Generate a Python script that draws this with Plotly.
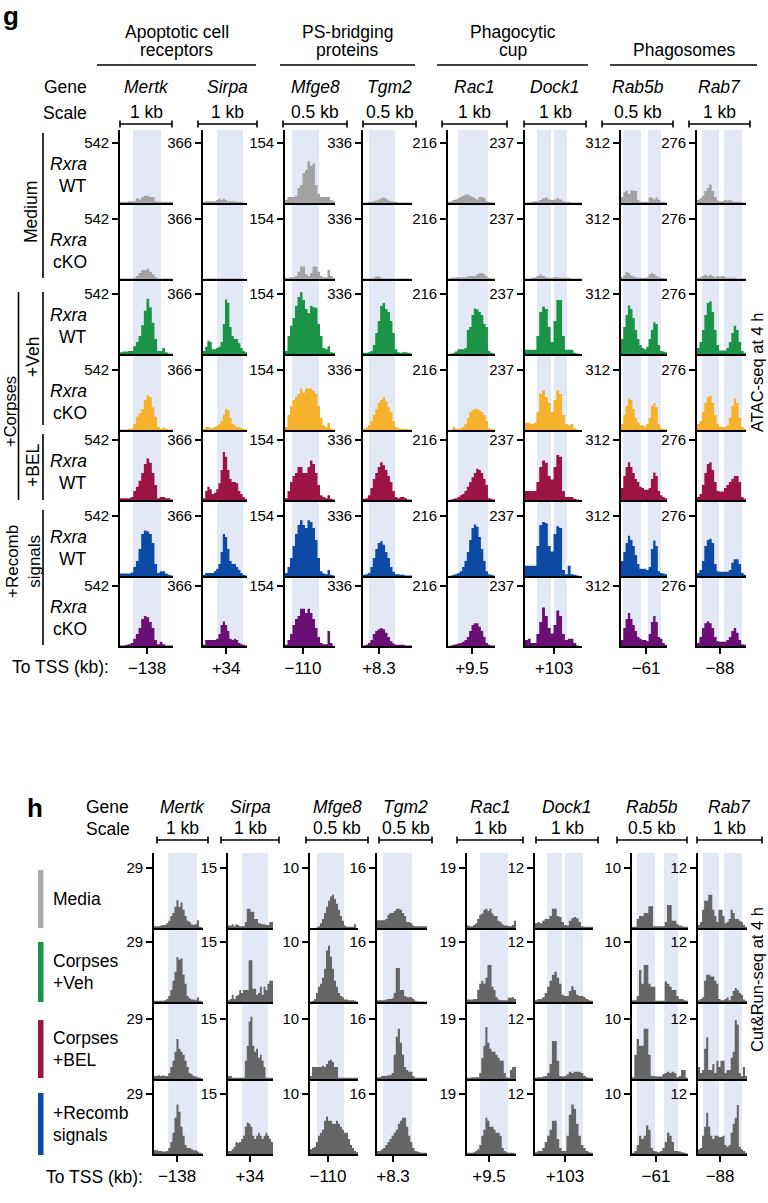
import numpy as np
import plotly.graph_objects as go

W, H = 768, 1203
FONT = "Liberation Sans, Arial, Helvetica, sans-serif"
LW = 1.6

# ---------------- data ----------------
GENES = ["Mertk", "Sirpa", "Mfge8", "Tgm2", "Rac1", "Dock1", "Rab5b", "Rab7"]
SCALES = ["1 kb", "1 kb", "0.5 kb", "0.5 kb", "1 kb", "1 kb", "0.5 kb", "1 kb"]
TO_TSS = ["\u2212138", "+34", "\u2212110", "+8.3", "+9.5", "+103", "\u221261", "\u221288"]
CATEGORIES = [["Apoptotic cell", "receptors"], ["PS-bridging", "proteins"],
              ["Phagocytic", "cup"], ["Phagosomes"]]
G_YMAX = [542, 366, 154, 336, 216, 237, 312, 276]
H_YMAX = [29, 15, 10, 16, 19, 12, 10, 12]
G_GENOTYPE = ["WT", "cKO", "WT", "cKO", "WT", "WT", "cKO"]
G_GROUPS = ["Medium", "+Veh", "+BEL", "+Recomb<br>signals", "+Corpses"]
H_CONDITIONS = [["Media"], ["Corpses", "+Veh"], ["Corpses", "+BEL"], ["+Recomb", "signals"]]

G_COLORS = ["#a2a2a2", "#a2a2a2", "#1c9447", "#f6b22c", "#9c1443", "#0c4aa6", "#6a0f73"]
H_LEGEND_COLORS = ["#ababab", "#1c9447", "#9c1443", "#0c4aa6"]
H_TRACK_COLOR = "#656565"
SHADE_COLOR = "#e3e9f4"

# peak (TSS-distance) tick and shaded peak regions, in bin units
G_TSS_BIN = [10.2, 10.5, 7.2, 6.5, 10.2, 10.2, 10.9, 9.4]
G_SHADE = [[(4.9, 15.5)], [(6.4, 18.2)], [(2.8, 13.6)], [(2.4, 13.1)], [(4.3, 17.0)],
           [(4.2, 9.1), (10.2, 14.7)], [(0.9, 8.7), (11.7, 17.4)], [(2.0, 9.0), (11.0, 18.4)]]
H_TSS_BIN = [11.3, 11.7, 9.0, 7.7, 10.8, 12.4, 10.3, 10.8]
H_SHADE = [[(6.9, 21.1)], [(7.5, 21.3)], [(3.5, 17.0)], [(2.9, 16.8)], [(6.4, 20.1)],
           [(5.0, 11.2), (12.4, 19.9)], [(2.1, 9.9), (13.7, 19.7)], [(2.4, 10.3), (12.7, 21.6)]]

# ATAC-seq signal, as fraction of each track's axis maximum (rows: Medium WT, Medium cKO,
# Veh WT, Veh cKO, BEL WT, Recomb WT, Recomb cKO)
G_MERTK = [
    [0.02, 0.02, 0.02, 0.03, 0.03, 0.03, 0.08, 0.06, 0.10, 0.12, 0.12, 0.10, 0.10, 0.03, 0.02, 0.02, 0.02, 0.02, 0.02, 0.02],
    [0.01, 0.01, 0.01, 0.01, 0.01, 0.02, 0.05, 0.10, 0.15, 0.15, 0.17, 0.12, 0.08, 0.03, 0.01, 0.01, 0.01, 0.01, 0.01, 0.01],
    [0.03, 0.04, 0.04, 0.05, 0.05, 0.13, 0.20, 0.30, 0.48, 0.72, 0.92, 0.78, 0.52, 0.25, 0.05, 0.05, 0.10, 0.03, 0.01, 0.01],
    [0.01, 0.01, 0.01, 0.02, 0.02, 0.10, 0.22, 0.28, 0.35, 0.50, 0.58, 0.55, 0.38, 0.22, 0.05, 0.02, 0.04, 0.02, 0.01, 0.01],
    [0.03, 0.03, 0.03, 0.03, 0.05, 0.15, 0.22, 0.32, 0.45, 0.60, 0.69, 0.62, 0.45, 0.25, 0.03, 0.05, 0.05, 0.03, 0.03, 0.01],
    [0.04, 0.04, 0.04, 0.04, 0.06, 0.15, 0.25, 0.45, 0.70, 0.76, 0.74, 0.70, 0.55, 0.20, 0.05, 0.08, 0.08, 0.04, 0.02, 0.01],
    [0.01, 0.01, 0.02, 0.03, 0.05, 0.12, 0.20, 0.30, 0.45, 0.50, 0.48, 0.40, 0.30, 0.10, 0.03, 0.07, 0.03, 0.01, 0.01, 0.01],
]
G_SIRPA = [
    [0.02, 0.03, 0.03, 0.03, 0.03, 0.03, 0.05, 0.07, 0.05, 0.07, 0.05, 0.03, 0.03, 0.03, 0.03, 0.02, 0.02, 0.02, 0.01, 0.00],
    [0.00, 0.01, 0.01, 0.01, 0.01, 0.01, 0.01, 0.01, 0.01, 0.01, 0.01, 0.01, 0.01, 0.01, 0.01, 0.01, 0.01, 0.01, 0.01, 0.00],
    [0.05, 0.12, 0.22, 0.20, 0.08, 0.08, 0.10, 0.12, 0.20, 0.50, 0.91, 0.85, 0.45, 0.30, 0.25, 0.25, 0.18, 0.10, 0.05, 0.03],
    [0.02, 0.05, 0.05, 0.03, 0.03, 0.05, 0.07, 0.10, 0.15, 0.25, 0.35, 0.33, 0.20, 0.10, 0.08, 0.05, 0.05, 0.03, 0.02, 0.01],
    [0.03, 0.15, 0.22, 0.18, 0.10, 0.12, 0.18, 0.28, 0.50, 0.80, 0.72, 0.50, 0.35, 0.30, 0.30, 0.28, 0.15, 0.10, 0.05, 0.02],
    [0.02, 0.05, 0.05, 0.05, 0.05, 0.08, 0.12, 0.20, 0.40, 0.70, 0.65, 0.45, 0.25, 0.20, 0.20, 0.15, 0.10, 0.05, 0.02, 0.01],
    [0.02, 0.10, 0.10, 0.10, 0.10, 0.10, 0.12, 0.20, 0.35, 0.41, 0.35, 0.25, 0.12, 0.10, 0.12, 0.10, 0.05, 0.03, 0.02, 0.01],
]
G_MFGE8 = [
    [0.05, 0.10, 0.10, 0.10, 0.12, 0.25, 0.30, 0.50, 0.55, 0.69, 0.62, 0.66, 0.30, 0.15, 0.10, 0.10, 0.10, 0.10, 0.05, 0.03],
    [0.02, 0.02, 0.03, 0.03, 0.05, 0.12, 0.21, 0.21, 0.08, 0.05, 0.10, 0.21, 0.21, 0.12, 0.05, 0.03, 0.03, 0.15, 0.05, 0.02],
    [0.05, 0.30, 0.47, 0.60, 0.80, 0.95, 1.03, 0.90, 0.75, 0.68, 0.80, 0.78, 0.77, 0.50, 0.30, 0.10, 0.08, 0.13, 0.03, 0.02],
    [0.05, 0.25, 0.40, 0.50, 0.55, 0.60, 0.69, 0.62, 0.69, 0.69, 0.69, 0.65, 0.60, 0.40, 0.20, 0.08, 0.05, 0.12, 0.02, 0.01],
    [0.03, 0.15, 0.30, 0.40, 0.45, 0.55, 0.55, 0.45, 0.45, 0.55, 0.66, 0.60, 0.45, 0.25, 0.08, 0.05, 0.03, 0.08, 0.02, 0.01],
    [0.05, 0.15, 0.30, 0.50, 0.70, 0.85, 0.93, 0.85, 0.80, 0.93, 0.90, 0.80, 0.60, 0.30, 0.08, 0.04, 0.03, 0.10, 0.02, 0.01],
    [0.02, 0.10, 0.20, 0.35, 0.45, 0.50, 0.62, 0.62, 0.55, 0.62, 0.55, 0.45, 0.30, 0.15, 0.05, 0.03, 0.03, 0.25, 0.05, 0.00],
]
G_TGM2 = [
    [0.01, 0.01, 0.02, 0.02, 0.03, 0.04, 0.06, 0.08, 0.09, 0.07, 0.04, 0.03, 0.02, 0.02, 0.01, 0.01, 0.01, 0.01, 0.01, 0.01],
    [0.01, 0.01, 0.01, 0.01, 0.02, 0.04, 0.04, 0.02, 0.01, 0.01, 0.01, 0.01, 0.01, 0.01, 0.01, 0.01, 0.01, 0.01, 0.01, 0.01],
    [0.02, 0.02, 0.03, 0.05, 0.15, 0.35, 0.55, 0.80, 0.85, 0.75, 0.70, 0.55, 0.35, 0.08, 0.03, 0.02, 0.03, 0.03, 0.02, 0.01],
    [0.02, 0.04, 0.08, 0.15, 0.25, 0.35, 0.45, 0.50, 0.55, 0.48, 0.38, 0.30, 0.15, 0.05, 0.03, 0.02, 0.02, 0.02, 0.01, 0.01],
    [0.02, 0.03, 0.08, 0.20, 0.35, 0.45, 0.55, 0.63, 0.58, 0.50, 0.40, 0.30, 0.15, 0.05, 0.03, 0.05, 0.05, 0.03, 0.01, 0.01],
    [0.02, 0.03, 0.05, 0.15, 0.30, 0.45, 0.55, 0.58, 0.52, 0.40, 0.30, 0.15, 0.07, 0.03, 0.03, 0.02, 0.02, 0.01, 0.01, 0.01],
    [0.01, 0.02, 0.05, 0.10, 0.20, 0.25, 0.28, 0.30, 0.28, 0.22, 0.15, 0.08, 0.04, 0.02, 0.02, 0.02, 0.02, 0.01, 0.01, 0.01],
]
G_RAC1 = [
    [0.02, 0.03, 0.05, 0.06, 0.08, 0.10, 0.12, 0.14, 0.14, 0.12, 0.10, 0.08, 0.06, 0.10, 0.10, 0.08, 0.03, 0.02, 0.01, 0.01],
    [0.01, 0.02, 0.02, 0.03, 0.03, 0.03, 0.03, 0.03, 0.04, 0.05, 0.05, 0.05, 0.08, 0.10, 0.10, 0.08, 0.04, 0.02, 0.01, 0.01],
    [0.00, 0.01, 0.02, 0.04, 0.08, 0.08, 0.08, 0.10, 0.40, 0.45, 0.65, 0.76, 0.74, 0.70, 0.65, 0.50, 0.45, 0.05, 0.02, 0.01],
    [0.00, 0.01, 0.05, 0.02, 0.02, 0.03, 0.05, 0.10, 0.20, 0.30, 0.33, 0.35, 0.35, 0.33, 0.30, 0.25, 0.15, 0.03, 0.02, 0.01],
    [0.00, 0.01, 0.02, 0.03, 0.05, 0.08, 0.10, 0.15, 0.22, 0.30, 0.38, 0.45, 0.52, 0.50, 0.45, 0.35, 0.25, 0.03, 0.02, 0.01],
    [0.00, 0.01, 0.02, 0.03, 0.05, 0.08, 0.15, 0.25, 0.40, 0.60, 0.80, 0.86, 0.82, 0.65, 0.45, 0.25, 0.08, 0.03, 0.02, 0.01],
    [0.00, 0.01, 0.02, 0.03, 0.04, 0.05, 0.07, 0.10, 0.15, 0.25, 0.35, 0.38, 0.38, 0.32, 0.25, 0.15, 0.05, 0.02, 0.01, 0.01],
]
G_DOCK1 = [
    [0.01, 0.01, 0.02, 0.03, 0.03, 0.05, 0.08, 0.09, 0.06, 0.05, 0.06, 0.08, 0.06, 0.03, 0.02, 0.02, 0.01, 0.01, 0.01, 0.01],
    [0.01, 0.01, 0.02, 0.03, 0.05, 0.07, 0.05, 0.03, 0.02, 0.02, 0.03, 0.03, 0.02, 0.02, 0.02, 0.02, 0.01, 0.01, 0.01, 0.01],
    [0.07, 0.07, 0.07, 0.07, 0.30, 0.70, 0.79, 0.75, 0.45, 0.20, 0.55, 0.90, 0.90, 0.30, 0.07, 0.07, 0.07, 0.02, 0.01, 0.00],
    [0.12, 0.12, 0.10, 0.12, 0.30, 0.60, 0.66, 0.55, 0.45, 0.30, 0.50, 0.66, 0.60, 0.25, 0.10, 0.08, 0.10, 0.03, 0.01, 0.00],
    [0.15, 0.15, 0.15, 0.15, 0.30, 0.55, 0.66, 0.62, 0.40, 0.34, 0.55, 0.75, 0.72, 0.15, 0.05, 0.05, 0.05, 0.02, 0.01, 0.00],
    [0.17, 0.17, 0.17, 0.17, 0.50, 0.85, 0.90, 0.88, 0.50, 0.41, 0.70, 0.83, 0.80, 0.10, 0.03, 0.17, 0.03, 0.02, 0.01, 0.00],
    [0.10, 0.12, 0.05, 0.05, 0.20, 0.40, 0.64, 0.50, 0.30, 0.21, 0.35, 0.59, 0.50, 0.20, 0.10, 0.12, 0.12, 0.05, 0.01, 0.00],
]
G_RAB5B = [
    [0.10, 0.18, 0.21, 0.15, 0.21, 0.21, 0.20, 0.05, 0.02, 0.02, 0.02, 0.02, 0.09, 0.09, 0.06, 0.09, 0.05, 0.02, 0.02, 0.01],
    [0.03, 0.06, 0.12, 0.10, 0.06, 0.04, 0.03, 0.02, 0.02, 0.02, 0.02, 0.03, 0.08, 0.10, 0.08, 0.05, 0.03, 0.02, 0.02, 0.01],
    [0.25, 0.45, 0.65, 0.81, 0.75, 0.60, 0.40, 0.25, 0.15, 0.10, 0.08, 0.12, 0.25, 0.40, 0.53, 0.50, 0.15, 0.05, 0.04, 0.03],
    [0.10, 0.25, 0.40, 0.52, 0.50, 0.35, 0.20, 0.12, 0.08, 0.08, 0.06, 0.10, 0.20, 0.40, 0.45, 0.38, 0.10, 0.03, 0.02, 0.01],
    [0.20, 0.40, 0.55, 0.63, 0.55, 0.45, 0.35, 0.30, 0.22, 0.20, 0.17, 0.17, 0.20, 0.35, 0.46, 0.40, 0.15, 0.08, 0.05, 0.03],
    [0.25, 0.40, 0.55, 0.67, 0.60, 0.50, 0.35, 0.20, 0.12, 0.12, 0.12, 0.10, 0.15, 0.45, 0.59, 0.50, 0.08, 0.05, 0.04, 0.03],
    [0.10, 0.30, 0.45, 0.55, 0.45, 0.35, 0.25, 0.15, 0.12, 0.10, 0.10, 0.08, 0.20, 0.40, 0.50, 0.40, 0.15, 0.12, 0.05, 0.02],
]
G_RAB7 = [
    [0.05, 0.08, 0.12, 0.20, 0.25, 0.31, 0.20, 0.10, 0.04, 0.03, 0.03, 0.05, 0.04, 0.05, 0.03, 0.02, 0.02, 0.02, 0.01, 0.01],
    [0.02, 0.03, 0.05, 0.07, 0.05, 0.07, 0.05, 0.03, 0.05, 0.04, 0.05, 0.03, 0.02, 0.02, 0.02, 0.02, 0.01, 0.01, 0.01, 0.01],
    [0.10, 0.20, 0.40, 0.65, 0.85, 0.88, 0.70, 0.40, 0.15, 0.06, 0.06, 0.06, 0.10, 0.20, 0.35, 0.47, 0.40, 0.20, 0.05, 0.02],
    [0.10, 0.15, 0.30, 0.45, 0.55, 0.57, 0.45, 0.25, 0.10, 0.06, 0.05, 0.05, 0.08, 0.20, 0.40, 0.52, 0.45, 0.20, 0.05, 0.02],
    [0.05, 0.10, 0.25, 0.45, 0.60, 0.63, 0.50, 0.30, 0.15, 0.14, 0.14, 0.20, 0.25, 0.30, 0.35, 0.40, 0.40, 0.30, 0.05, 0.02],
    [0.05, 0.10, 0.25, 0.50, 0.60, 0.62, 0.55, 0.20, 0.08, 0.07, 0.07, 0.07, 0.07, 0.10, 0.22, 0.28, 0.28, 0.20, 0.05, 0.02],
    [0.05, 0.15, 0.30, 0.38, 0.41, 0.38, 0.30, 0.15, 0.08, 0.07, 0.07, 0.07, 0.10, 0.15, 0.25, 0.30, 0.22, 0.10, 0.03, 0.02],
]

# Cut&Run signal, fraction of axis maximum (rows: Media, Corpses+Veh, Corpses+BEL, +Recomb)
H_MERTK = [
    [0.03, 0.03, 0.03, 0.04, 0.05, 0.05, 0.08, 0.12, 0.20, 0.25, 0.35, 0.46, 0.35, 0.42, 0.30, 0.20, 0.12, 0.10, 0.06, 0.05, 0.06, 0.13, 0.02, 0.01],
    [0.02, 0.02, 0.02, 0.02, 0.02, 0.03, 0.05, 0.10, 0.20, 0.35, 0.50, 0.74, 0.70, 0.72, 0.45, 0.30, 0.10, 0.06, 0.04, 0.04, 0.03, 0.08, 0.02, 0.01],
    [0.05, 0.05, 0.06, 0.05, 0.06, 0.05, 0.05, 0.10, 0.20, 0.30, 0.45, 0.66, 0.50, 0.45, 0.40, 0.30, 0.20, 0.10, 0.08, 0.05, 0.04, 0.03, 0.02, 0.01],
    [0.06, 0.06, 0.05, 0.05, 0.04, 0.04, 0.05, 0.10, 0.20, 0.35, 0.60, 0.82, 0.70, 0.45, 0.30, 0.15, 0.10, 0.10, 0.08, 0.06, 0.06, 0.04, 0.02, 0.01],
]
H_SIRPA = [
    [0.04, 0.04, 0.06, 0.03, 0.06, 0.05, 0.03, 0.03, 0.03, 0.10, 0.32, 0.32, 0.27, 0.27, 0.15, 0.15, 0.08, 0.07, 0.06, 0.06, 0.05, 0.05, 0.10, 0.10],
    [0.03, 0.05, 0.12, 0.05, 0.10, 0.12, 0.20, 0.15, 0.20, 0.20, 0.20, 0.69, 0.69, 0.22, 0.22, 0.12, 0.15, 0.25, 0.12, 0.25, 0.20, 0.30, 0.35, 0.35],
    [0.05, 0.05, 0.02, 0.02, 0.02, 0.02, 0.02, 0.02, 0.02, 0.30, 0.55, 0.95, 1.03, 0.55, 0.45, 0.50, 0.35, 0.40, 0.30, 0.20, 0.02, 0.02, 0.02, 0.02],
    [0.05, 0.05, 0.08, 0.12, 0.20, 0.18, 0.20, 0.25, 0.30, 0.45, 0.52, 0.50, 0.45, 0.30, 0.25, 0.30, 0.35, 0.30, 0.25, 0.30, 0.35, 0.30, 0.25, 0.20],
]
H_MFGE8 = [
    [0.00, 0.00, 0.00, 0.01, 0.03, 0.08, 0.15, 0.25, 0.35, 0.45, 0.52, 0.55, 0.48, 0.40, 0.30, 0.20, 0.12, 0.04, 0.02, 0.02, 0.02, 0.02, 0.06, 0.00],
    [0.01, 0.02, 0.05, 0.15, 0.25, 0.30, 0.40, 0.55, 0.85, 0.93, 0.75, 0.55, 0.35, 0.25, 0.15, 0.10, 0.08, 0.04, 0.04, 0.03, 0.03, 0.03, 0.02, 0.01],
    [0.05, 0.20, 0.20, 0.20, 0.20, 0.20, 0.22, 0.20, 0.25, 0.30, 0.32, 0.28, 0.20, 0.20, 0.02, 0.02, 0.02, 0.02, 0.02, 0.02, 0.02, 0.02, 0.02, 0.02],
    [0.08, 0.10, 0.12, 0.20, 0.30, 0.35, 0.40, 0.55, 0.62, 0.55, 0.55, 0.50, 0.50, 0.55, 0.50, 0.45, 0.40, 0.35, 0.35, 0.25, 0.15, 0.10, 0.05, 0.03],
]
H_TGM2 = [
    [0.13, 0.13, 0.13, 0.13, 0.15, 0.22, 0.25, 0.25, 0.28, 0.32, 0.32, 0.30, 0.25, 0.20, 0.10, 0.10, 0.08, 0.04, 0.03, 0.03, 0.03, 0.03, 0.03, 0.03],
    [0.03, 0.03, 0.03, 0.03, 0.04, 0.05, 0.05, 0.06, 0.15, 0.56, 0.56, 0.20, 0.20, 0.10, 0.08, 0.08, 0.08, 0.05, 0.02, 0.01, 0.01, 0.01, 0.01, 0.01],
    [0.03, 0.03, 0.05, 0.05, 0.05, 0.06, 0.06, 0.10, 0.40, 0.70, 0.83, 0.60, 0.40, 0.20, 0.15, 0.12, 0.12, 0.05, 0.02, 0.02, 0.02, 0.02, 0.02, 0.02],
    [0.05, 0.05, 0.08, 0.10, 0.15, 0.20, 0.25, 0.30, 0.35, 0.40, 0.50, 0.55, 0.60, 0.60, 0.45, 0.30, 0.20, 0.10, 0.05, 0.04, 0.03, 0.02, 0.02, 0.02],
]
H_RAC1 = [
    [0.04, 0.03, 0.03, 0.05, 0.08, 0.15, 0.22, 0.24, 0.30, 0.32, 0.28, 0.32, 0.24, 0.20, 0.20, 0.12, 0.10, 0.06, 0.04, 0.04, 0.03, 0.03, 0.05, 0.12],
    [0.04, 0.04, 0.04, 0.05, 0.05, 0.20, 0.30, 0.35, 0.30, 0.40, 0.61, 0.61, 0.25, 0.20, 0.08, 0.04, 0.03, 0.03, 0.03, 0.03, 0.07, 0.07, 0.08, 0.05],
    [0.02, 0.02, 0.03, 0.03, 0.03, 0.03, 0.10, 0.35, 0.55, 0.86, 0.60, 0.50, 0.45, 0.45, 0.40, 0.35, 0.30, 0.30, 0.10, 0.03, 0.02, 0.15, 0.20, 0.20],
    [0.02, 0.02, 0.02, 0.03, 0.05, 0.08, 0.15, 0.30, 0.40, 0.60, 0.55, 0.45, 0.45, 0.40, 0.35, 0.35, 0.30, 0.10, 0.05, 0.03, 0.02, 0.02, 0.02, 0.01],
]
H_DOCK1 = [
    [0.08, 0.10, 0.08, 0.12, 0.15, 0.15, 0.20, 0.32, 0.32, 0.20, 0.18, 0.10, 0.05, 0.04, 0.12, 0.16, 0.18, 0.16, 0.10, 0.03, 0.02, 0.02, 0.02, 0.02],
    [0.03, 0.05, 0.05, 0.08, 0.15, 0.25, 0.35, 0.45, 0.50, 0.40, 0.30, 0.12, 0.10, 0.10, 0.18, 0.26, 0.20, 0.12, 0.10, 0.10, 0.08, 0.05, 0.03, 0.02],
    [0.02, 0.03, 0.03, 0.04, 0.05, 0.10, 0.25, 0.63, 0.63, 0.30, 0.05, 0.04, 0.05, 0.08, 0.12, 0.10, 0.12, 0.12, 0.12, 0.10, 0.05, 0.03, 0.02, 0.02],
    [0.03, 0.05, 0.05, 0.10, 0.20, 0.30, 0.40, 0.55, 0.55, 0.25, 0.10, 0.05, 0.05, 0.30, 0.65, 0.82, 0.75, 0.50, 0.30, 0.15, 0.10, 0.05, 0.03, 0.02],
]
H_RAB5B = [
    [0.02, 0.02, 0.15, 0.20, 0.20, 0.25, 0.25, 0.36, 0.36, 0.03, 0.03, 0.03, 0.03, 0.03, 0.10, 0.38, 0.38, 0.12, 0.12, 0.06, 0.04, 0.03, 0.02, 0.02],
    [0.03, 0.03, 0.10, 0.53, 0.30, 0.61, 0.61, 0.30, 0.25, 0.25, 0.02, 0.02, 0.02, 0.02, 0.34, 0.30, 0.25, 0.20, 0.20, 0.10, 0.05, 0.05, 0.03, 0.02],
    [0.03, 0.40, 0.66, 0.55, 0.55, 0.83, 0.83, 0.40, 0.05, 0.05, 0.04, 0.04, 0.04, 0.08, 0.10, 0.12, 0.10, 0.12, 0.10, 0.03, 0.05, 0.15, 0.15, 0.02],
    [0.02, 0.05, 0.15, 0.30, 0.25, 0.30, 0.47, 0.40, 0.10, 0.05, 0.04, 0.03, 0.05, 0.10, 0.20, 0.35, 0.30, 0.20, 0.05, 0.05, 0.04, 0.03, 0.02, 0.01],
]
H_RAB7 = [
    [0.05, 0.10, 0.30, 0.45, 0.45, 0.55, 0.55, 0.30, 0.20, 0.10, 0.30, 0.30, 0.20, 0.08, 0.10, 0.15, 0.30, 0.25, 0.15, 0.15, 0.12, 0.10, 0.05, 0.02],
    [0.03, 0.05, 0.08, 0.35, 0.45, 0.45, 0.42, 0.42, 0.35, 0.30, 0.05, 0.03, 0.03, 0.05, 0.08, 0.03, 0.10, 0.18, 0.23, 0.20, 0.15, 0.12, 0.04, 0.02],
    [0.20, 0.10, 0.15, 0.50, 0.69, 0.15, 0.15, 0.25, 0.10, 0.30, 0.20, 0.30, 0.30, 0.10, 0.15, 0.15, 0.35, 0.45, 0.97, 0.90, 0.10, 0.05, 0.20, 0.05],
    [0.08, 0.10, 0.30, 0.45, 0.68, 0.45, 0.30, 0.25, 0.30, 0.30, 0.28, 0.28, 0.30, 0.15, 0.12, 0.15, 0.35, 0.50, 0.60, 0.81, 0.12, 0.08, 0.05, 0.02],
]
G_TRACKS = [G_MERTK, G_SIRPA, G_MFGE8, G_TGM2, G_RAC1, G_DOCK1, G_RAB5B, G_RAB7]
H_TRACKS = [H_MERTK, H_SIRPA, H_MFGE8, H_TGM2, H_RAC1, H_DOCK1, H_RAB5B, H_RAB7]

# ---------------- layout geometry (pixels) ----------------
G_X0 = [120, 203, 285, 363, 448, 525, 621, 697]
G_X1 = [173, 247, 335, 412, 495, 582, 667, 746]
G_BASE = [203, 279, 354, 430, 500, 576, 646]
G_TOP0 = 130
G_TICKPX = 60
G_SCALEBAR = [(120, 172), (198, 257), (283, 347), (363, 416), (442, 507), (524, 586), (602, 673), (689, 750)]

H_X0 = [154, 228, 310, 377, 467, 535, 632, 698]
H_X1 = [203, 273, 358, 427, 516, 593, 688, 747]
H_BASE = [928, 1002, 1079, 1154]
H_TOP0 = 853
H_TICKPX = 60.5
H_SCALEBAR = [(157, 208), (221, 279), (306, 368), (379, 432), (457, 523), (536, 598), (617, 687), (697, 762)]


def X(p):
    return p / W


def Y(p):
    return 1 - p / H


fig = go.Figure()
layout = {}
shapes = []
annotations = []
counter = [0]


def add_panel(tracks, ymax, colors, x0s, x1s, bases, top0, tickpx, tss_bins, shade_list, ytickfs):
    for c in range(len(tracks)):
        for r in range(len(bases)):
            counter[0] += 1
            k = counter[0]
            sfx = "" if k == 1 else str(k)
            xn, yn = "x" + sfx, "y" + sfx
            top = top0 if r == 0 else bases[r - 1]
            vals = np.asarray(tracks[c][r]) * ymax[c]
            n = len(vals)
            col = colors[r] if isinstance(colors, list) else colors
            # step-shaped filled coverage track
            fig.add_trace(go.Scatter(
                x=np.arange(n + 1), y=np.append(vals, vals[-1]),
                mode="lines", line=dict(shape="hv", width=0, color=col),
                fill="tozeroy", fillcolor=col,
                xaxis=xn, yaxis=yn, hoverinfo="skip", showlegend=False))
            last = (r == len(bases) - 1)
            layout["xaxis" + sfx] = dict(
                domain=[X(x0s[c]), X(x1s[c])], anchor=yn, range=[0, n],
                showline=True, linecolor="black", linewidth=LW, mirror=False,
                showgrid=False, zeroline=False, fixedrange=True,
                ticks="outside" if last else "", ticklen=6, tickwidth=LW, tickcolor="black",
                tickvals=[tss_bins[c]] if last else [], ticktext=[TO_TSS[c]] if last else [],
                showticklabels=last,
                tickfont=dict(family=FONT, size=17, color="black"))
            layout["yaxis" + sfx] = dict(
                domain=[Y(bases[r]), Y(top)], anchor=xn,
                range=[0, ymax[c] * (bases[r] - top) / tickpx],
                showline=True, linecolor="black", linewidth=LW,
                showgrid=False, zeroline=False, fixedrange=True,
                ticks="outside", ticklen=6, tickwidth=LW, tickcolor="black",
                tickvals=[ymax[c]], ticktext=[str(ymax[c])],
                tickfont=dict(family=FONT, size=ytickfs, color="black"))
            if last:
                for (a, b) in shade_list[c]:
                    shapes.append(dict(type="rect", xref=xn, yref="paper", x0=a, x1=b,
                                       y0=Y(bases[-1]), y1=Y(top0), fillcolor=SHADE_COLOR,
                                       line=dict(width=0), layer="below"))


add_panel(G_TRACKS, G_YMAX, G_COLORS, G_X0, G_X1, G_BASE, G_TOP0, G_TICKPX, G_TSS_BIN, G_SHADE, 15)
add_panel(H_TRACKS, H_YMAX, H_TRACK_COLOR, H_X0, H_X1, H_BASE, H_TOP0, H_TICKPX, H_TSS_BIN, H_SHADE, 15)


def ann(text, x, y, size=17.5, xa="center", ya="middle", angle=0, bold=False):
    annotations.append(dict(
        text=("<b>%s</b>" % text) if bold else text, x=X(x), y=Y(y), xref="paper", yref="paper",
        xanchor=xa, yanchor=ya, showarrow=False, textangle=angle,
        font=dict(family=FONT, size=size, color="black")))


def hline(x0, x1, y, w=LW):
    shapes.append(dict(type="line", xref="paper", yref="paper", x0=X(x0), x1=X(x1), y0=Y(y), y1=Y(y),
                       line=dict(color="black", width=w)))


def vline(x, y0, y1, w=LW):
    shapes.append(dict(type="line", xref="paper", yref="paper", x0=X(x), x1=X(x), y0=Y(y0), y1=Y(y1),
                       line=dict(color="black", width=w)))


# ---- panel g header ----
ann("g", 11, 16, size=26, bold=True)
CAT_LINES = [(97, 256), (280, 415), (437, 588), (610, 757)]
for cat, (a, b) in zip(CATEGORIES, CAT_LINES):
    cx = (a + b) / 2
    if len(cat) == 2:
        ann(cat[0], cx, 32)
        ann(cat[1], cx, 50)
    else:
        ann(cat[0], cx, 50)
    hline(a, b, 65)

ann("Gene", 89, 87, xa="right")
ann("Scale", 89, 113, xa="right")
for i, g in enumerate(GENES):
    a, b = G_SCALEBAR[i]
    ann("<i>%s</i>" % g, (a + b) / 2, 87)
    ann(SCALES[i], (a + b) / 2, 112)
    hline(a, b, 124)
    vline(a, 120.5, 127.5)
    vline(b, 120.5, 127.5)

# row labels g
for r, gt in enumerate(G_GENOTYPE):
    ann("<i>Rxra</i>", 89, G_BASE[r] - 39, xa="right")
    ann(gt, 89, G_BASE[r] - 17, xa="right")

# group brackets g
vline(43, 133, 278)
ann(G_GROUPS[0], 31, 212, angle=-90)
vline(43, 292, 425)
ann(G_GROUPS[1], 33, 357, angle=-90)
vline(43, 434, 500)
ann(G_GROUPS[2], 33, 465, angle=-90)
vline(43, 510, 645)
ann(G_GROUPS[3], 23, 562, size=17, angle=-90)
vline(18.5, 292, 500)
ann(G_GROUPS[4], 10, 412, size=16.5, angle=-90)

ann("To TSS (kb):", 111, 667, xa="right")
ann("ATAC-seq at 4 h", 757, 372, size=16.5, angle=-90)

# ---- panel h header ----
ann("h", 35, 808, size=26, bold=True)
ann("Gene", 131, 807, xa="right")
ann("Scale", 132, 829, xa="right")
for i, g in enumerate(GENES):
    a, b = H_SCALEBAR[i]
    ann("<i>%s</i>" % g, (a + b) / 2, 807)
    ann(SCALES[i], (a + b) / 2, 828)
    hline(a, b, 840)
    vline(a, 836.5, 843.5)
    vline(b, 836.5, 843.5)

# legend bars h
H_LEG_SPANS = [(870, 928), (942, 1002), (1020, 1078), (1093, 1155)]
for (y0, y1), col, lab in zip(H_LEG_SPANS, H_LEGEND_COLORS, H_CONDITIONS):
    shapes.append(dict(type="rect", xref="paper", yref="paper", x0=X(38), x1=X(43.5), y0=Y(y1), y1=Y(y0),
                       fillcolor=col, line=dict(width=0)))
    mid = (y0 + y1) / 2
    if len(lab) == 1:
        ann(lab[0], 51, mid, xa="left")
    else:
        ann(lab[0], 51, mid - 11, xa="left")
        ann(lab[1], 51, mid + 11, xa="left")

ann("To TSS (kb):", 145, 1177, xa="right")
ann("Cut&amp;Run-seq at 4 h", 757, 980, size=16.5, angle=-90)

fig.update_layout(
    width=W, height=H, margin=dict(l=0, r=0, t=0, b=0),
    paper_bgcolor="white", plot_bgcolor="rgba(0,0,0,0)",
    showlegend=False,
    font=dict(family=FONT, size=17, color="black"),
    shapes=shapes, annotations=annotations, **layout)

fig.write_html("out.html", config={"displayModeBar": False},
               post_script="document.body.style.margin='0px';")
